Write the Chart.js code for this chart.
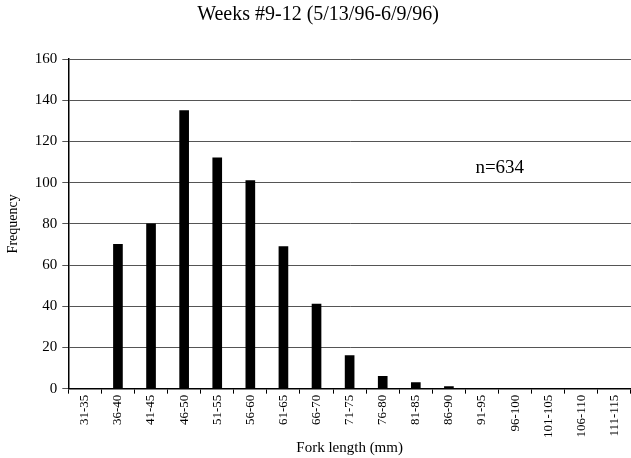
<!DOCTYPE html>
<html lang="en">
<head>
    <meta charset="UTF-8">
    <title>Fork length frequency</title>
    <script src="https://cdn.jsdelivr.net/npm/chart.js"></script>
    <style>
        html, body { margin: 0; padding: 0; background: #fff; }
        .chart-container { width: 631px; height: 458px; }
    </style>
</head>
<body>
    <div class="chart-container">
        <canvas id="forkChart"></canvas>
    </div>
    <script>
        const lengthClasses = ['31-35', '36-40', '41-45', '46-50', '51-55', '56-60', '61-65', '66-70', '71-75',
            '76-80', '81-85', '86-90', '91-95', '96-100', '101-105', '106-110', '111-115'];
        const frequencies = [0, 70, 80, 135, 112, 101, 69, 41, 16, 6, 3, 1, 0, 0, 0, 0, 0];
        const yTicks = { min: 0, max: 160, step: 20 };
        const noteText = 'n=634';

        const serif = "'Liberation Serif', 'DejaVu Serif', serif";

        // draws the n= note inside the plot
        const notePlugin = {
            id: 'note',
            afterDatasetsDraw(chart) {
                const ctx = chart.ctx;
                const x = chart.scales.x.getPixelForValue(11.8);
                const y = chart.scales.y.getPixelForValue(107);
                ctx.save();
                ctx.font = '19px ' + serif;
                ctx.fillStyle = '#000';
                ctx.textAlign = 'left';
                ctx.textBaseline = 'middle';
                ctx.fillText(noteText, x, y);
                ctx.restore();
            }
        };

        new Chart(document.getElementById('forkChart').getContext('2d'), {
            type: 'bar',
            data: {
                labels: lengthClasses,
                datasets: [{
                    data: frequencies,
                    backgroundColor: '#000',
                    barThickness: 9
                }]
            },
            plugins: [notePlugin],
            options: {
                responsive: true,
                maintainAspectRatio: false,
                animation: false,
                layout: { padding: { left: 5, right: 0, top: 0, bottom: 1 } },
                plugins: {
                    legend: { display: false },
                    tooltip: { enabled: false },
                    title: {
                        display: true,
                        text: 'Weeks #9-12 (5/13/96-6/9/96)',
                        color: '#000',
                        font: { family: serif, size: 20, weight: 'normal' },
                        padding: { top: 3, bottom: 32 }
                    }
                },
                scales: {
                    x: {
                        offset: true,
                        grid: { display: true, drawOnChartArea: false, offset: true, tickLength: 5, color: '#000' },
                        border: { color: '#000', width: 1.5 },
                        ticks: {
                            color: '#000',
                            autoSkip: false,
                            maxRotation: 90,
                            minRotation: 90,
                            padding: 1,
                            font: { family: serif, size: 13 }
                        },
                        title: {
                            display: true,
                            text: 'Fork length (mm)',
                            color: '#000',
                            padding: { top: 0, bottom: 0 },
                            font: { family: serif, size: 15 }
                        }
                    },
                    y: {
                        min: yTicks.min,
                        max: yTicks.max,
                        grid: { color: '#555', tickLength: 6 },
                        border: { color: '#000', width: 1.5 },
                        ticks: {
                            stepSize: yTicks.step,
                            color: '#000',
                            padding: 5,
                            font: { family: serif, size: 15 }
                        },
                        title: {
                            display: true,
                            text: 'Frequency',
                            color: '#000',
                            padding: { top: 0, bottom: 8 },
                            font: { family: serif, size: 14 }
                        }
                    }
                }
            }
        });
    </script>
</body>
</html>
